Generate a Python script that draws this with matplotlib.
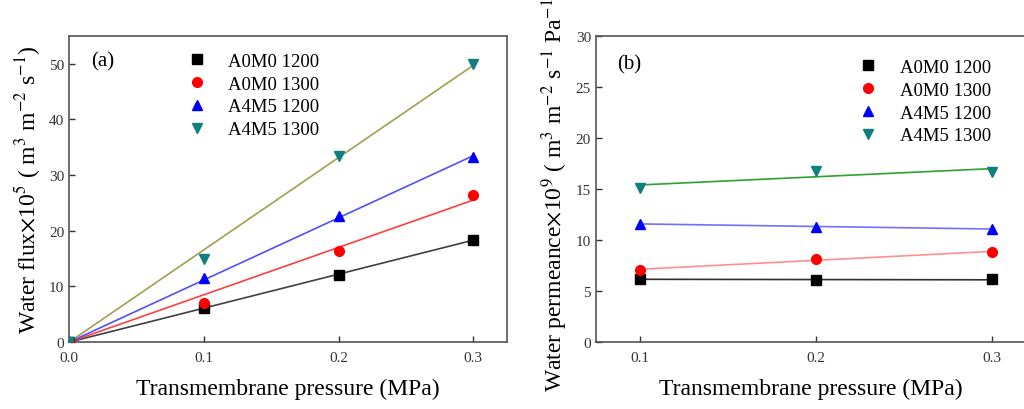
import numpy as np
import matplotlib
matplotlib.use('Agg')
import matplotlib.pyplot as plt

plt.rcParams['font.family'] = ['Liberation Serif', 'DejaVu Serif']
plt.rcParams['mathtext.fontset'] = 'stix'

# pressure (MPa)
p_flux = [0.0, 0.1, 0.2, 0.3]
p_perm = [0.1, 0.2, 0.3]

series = ['A0M0 1200', 'A0M0 1300', 'A4M5 1200', 'A4M5 1300']

# (a) water flux x10^5
flux_a0m0_1200 = [0.0, 6.1, 12.1, 18.4]
flux_a0m0_1300 = [0.0, 7.1, 16.4, 26.4]
flux_a4m5_1200 = [0.0, 11.5, 22.6, 33.2]
flux_a4m5_1300 = [0.0, 15.0, 33.5, 50.0]

# (b) water permeance x10^9
perm_a0m0_1200 = [6.2, 6.05, 6.15]
perm_a0m0_1300 = [7.1, 8.1, 8.85]
perm_a4m5_1200 = [11.6, 11.3, 11.1]
perm_a4m5_1300 = [15.1, 16.8, 16.7]

markers = ['s', 'o', '^', 'v']
mcolors = ['black', 'red', 'blue', '#0f7f7f']
fit_a = ['#404040', '#ff4040', '#5050ff', '#a0a050']
fit_b = ['#303030', '#ff9090', '#7070ff', '#30a030']

fig = plt.figure(figsize=(10.24, 4.1), dpi=100)
ax1 = fig.add_axes([0.0674, 0.163, 0.4277, 0.747])
ax2 = fig.add_axes([0.582, 0.163, 0.42, 0.747])

# ---- (a)
flux = [flux_a0m0_1200, flux_a0m0_1300, flux_a4m5_1200, flux_a4m5_1300]
x = np.array(p_flux)
for i in range(4):
    y = np.array(flux[i])
    k = np.sum(x * y) / np.sum(x * x)  # fit through origin
    ax1.plot([0, 0.3], [0, k * 0.3], color=fit_a[i], lw=1.2, zorder=2)
    ax1.plot(x, y, markers[i], color=mcolors[i], ms=7, label=series[i], zorder=3)
ax1.set_xlim(0, 0.325)
ax1.set_ylim(0, 55)
ax1.set_xticks([0.0, 0.1, 0.2, 0.3])
ax1.set_yticks([0, 10, 20, 30, 40, 50])
ax1.set_xlabel('Transmembrane pressure (MPa)', fontsize=17, labelpad=10)
ax1.set_ylabel(r'Water flux$\times$10$^5$ ( m$^3$ m$^{-2}$ s$^{-1}$)', fontsize=17, labelpad=4)
ax1.text(0.05, 0.95, '(a)', transform=ax1.transAxes, fontsize=15, va='top')
ax1.legend(loc='upper left', bbox_to_anchor=(0.21, 1.0), frameon=False, fontsize=13.5,
           handletextpad=0.7, labelspacing=0.3)

# ---- (b)
perm = [perm_a0m0_1200, perm_a0m0_1300, perm_a4m5_1200, perm_a4m5_1300]
x = np.array(p_perm)
for i in range(4):
    y = np.array(perm[i])
    b, a = np.polyfit(x, y, 1)
    ax2.plot([0.1, 0.3], [a + b * 0.1, a + b * 0.3], color=fit_b[i], lw=1.2, zorder=2)
    ax2.plot(x, y, markers[i], color=mcolors[i], ms=7, label=series[i], zorder=3)
ax2.set_xlim(0.075, 0.3194)
ax2.set_ylim(0, 30)
ax2.set_xticks([0.1, 0.2, 0.3])
ax2.set_yticks([0, 5, 10, 15, 20, 25, 30])
ax2.set_xlabel('Transmembrane pressure (MPa)', fontsize=17, labelpad=10)
ax2.set_ylabel(r'Water permeance$\times$10$^9$ ( m$^3$ m$^{-2}$ s$^{-1}$ Pa$^{-1}$)', fontsize=17, labelpad=4)
ax2.text(0.05, 0.94, '(b)', transform=ax2.transAxes, fontsize=15, va='top')
ax2.legend(loc='upper left', bbox_to_anchor=(0.55, 0.98), frameon=False, fontsize=13.5,
           handletextpad=0.7, labelspacing=0.3)

for ax in (ax1, ax2):
    ax.tick_params(direction='in', labelsize=11, length=4, width=1, colors='#333333')
    ax.tick_params(axis='x', pad=6)
    for s in ax.spines.values():
        s.set_color('#555555')
        s.set_linewidth(1.2)

fig.savefig('out.png', dpi=100)
